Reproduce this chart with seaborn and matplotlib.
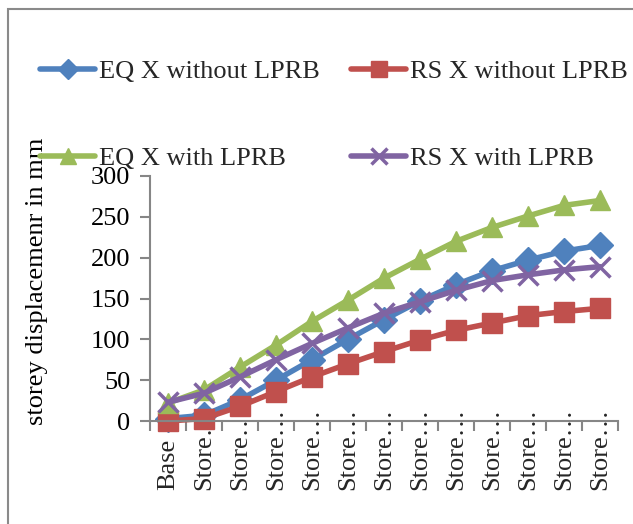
import numpy as np
import pandas as pd
import matplotlib
matplotlib.use("Agg")
import matplotlib.pyplot as plt
from matplotlib.patches import Rectangle
from matplotlib.ticker import FixedLocator
import seaborn as sns

# Storey labels as shown on the category axis
levels = ["Base"] + ["Store\u2026"] * 12

# Storey displacement (mm) per level
eq_without = [3, 7, 26, 50, 75, 100, 124, 147, 167, 184, 197, 208, 215]
rs_without = [0, 3, 18, 36, 54, 70, 85, 99, 111, 120, 129, 134, 138]
eq_with = [22, 38, 66, 93, 122, 148, 175, 198, 220, 237, 251, 264, 270]
rs_with = [23, 34, 54, 75, 95, 114, 132, 146, 160, 172, 179, 185, 189]

series_names = ["EQ X without LPRB", "RS X without LPRB",
                "EQ X with LPRB", "RS X with LPRB"]
series_values = [eq_without, rs_without, eq_with, rs_with]
colors = ["#4F81BD", "#C0504D", "#9BBB59", "#8064A2"]
markers = ["D", "s", "^", "x"]
msizes = [13, 14, 15, 15]

sns.set_theme(style="white")
plt.rcParams["font.family"] = ["Liberation Serif", "DejaVu Serif"]
FS = 19

W, H = 633, 524
fig = plt.figure(figsize=(W / 100, H / 100), dpi=100)
ax = fig.add_axes([150 / W, 103 / H, 468 / W, 245 / H])

x = np.arange(len(levels))
handles = {}
for name, vals, col, mk, ms in zip(series_names, series_values, colors, markers, msizes):
    df = pd.DataFrame({"level": x, "disp": vals})
    sns.lineplot(data=df, x="level", y="disp", ax=ax, color=col, linewidth=4,
                 marker=mk, markersize=ms, markeredgecolor=col,
                 markeredgewidth=2.5 if mk == "x" else 1, clip_on=False,
                 sort=False, label=name, legend=False)
    handles[name] = ax.lines[-1]

ax.set_xlim(-0.5, len(levels) - 0.5)
ax.set_ylim(0, 300)
ax.set_yticks(np.arange(0, 301, 50))
ax.set_xticks(x)
ax.set_xticklabels(levels)
ax.xaxis.set_minor_locator(FixedLocator(np.arange(-0.5, len(levels), 1.0)))
ax.set_xlabel("")
ax.set_ylabel("")

axis_gray = "#868686"
for side in ["top", "right"]:
    ax.spines[side].set_visible(False)
for side in ["left", "bottom"]:
    ax.spines[side].set_color(axis_gray)
    ax.spines[side].set_linewidth(1.5)

ax.tick_params(axis="y", which="major", direction="out", length=7, width=1.5,
               color=axis_gray, labelsize=FS, pad=7, left=True)
ax.tick_params(axis="x", which="major", length=0, labelsize=FS, pad=50)
ax.tick_params(axis="x", which="minor", direction="out", length=7, width=1.5,
               color=axis_gray, bottom=True)
for lab in ax.get_xticklabels():
    lab.set_rotation(90)
    lab.set_rotation_mode("anchor")
    lab.set_ha("left")
    lab.set_va("center")
for lab in ax.get_yticklabels():
    lab.set_color("black")

fig.text(37 / W, 1 - 281 / H, "storey displacemenr in mm", rotation=90,
         ha="center", va="center", fontsize=FS, color="black")

order = ["EQ X without LPRB", "EQ X with LPRB", "RS X without LPRB", "RS X with LPRB"]
fig.legend([handles[n] for n in order], order, loc="upper left",
           bbox_to_anchor=(40 / W, 1 - 60 / H), ncol=2, frameon=False,
           fontsize=FS, handlelength=2.1, handletextpad=0.12,
           columnspacing=1.2, labelspacing=2.4, borderpad=0, borderaxespad=0,
           markerscale=0.8)

# chart border
fig.patches.append(Rectangle((8 / W, -0.1), 1.2, 1.1 - 9 / H,
                             transform=fig.transFigure, fill=False,
                             edgecolor="#8a8a8a", linewidth=1.5))

fig.savefig("out.png", dpi=100)
